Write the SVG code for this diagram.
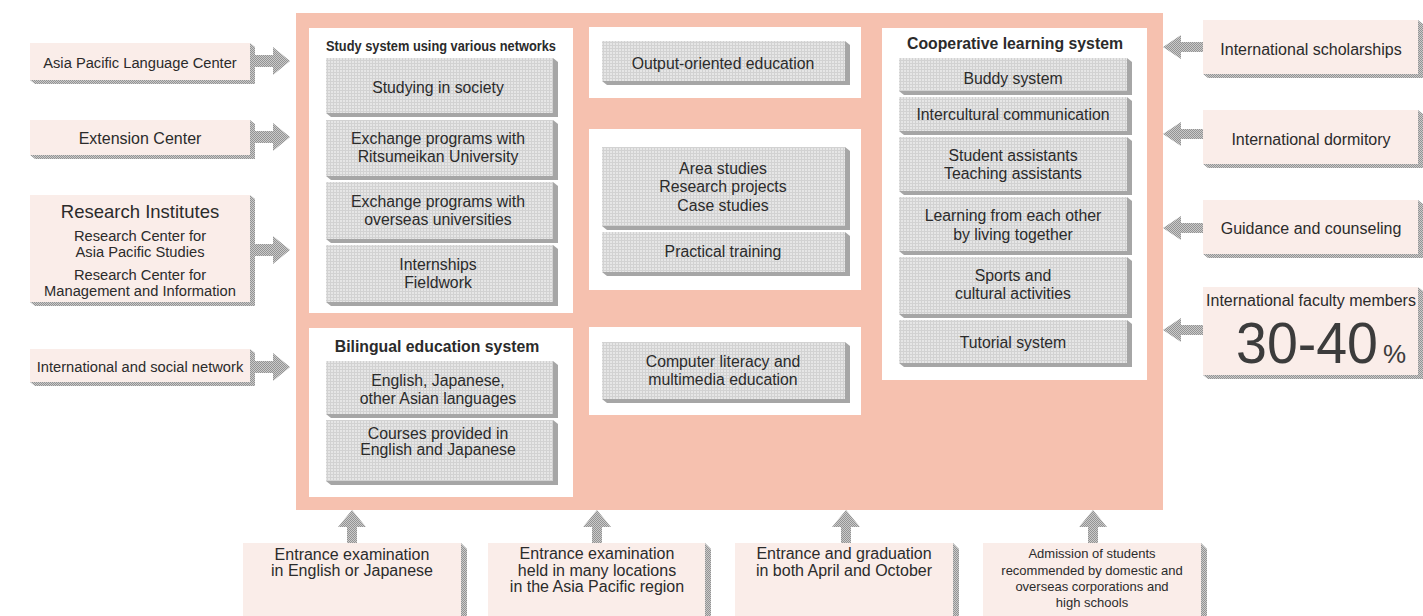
<svg xmlns="http://www.w3.org/2000/svg" width="1423" height="616" viewBox="0 0 1423 616">
<defs>
<pattern id="grid" width="3" height="3" patternUnits="userSpaceOnUse">
<rect width="3" height="3" fill="#e6e6e6"/>
<rect width="3" height="1" fill="#d2d2d2"/>
<rect width="1" height="3" fill="#d2d2d2"/>
</pattern>
<pattern id="stip" width="2" height="2" patternUnits="userSpaceOnUse">
<rect width="2" height="2" fill="#cacaca"/>
<rect width="1" height="1" fill="#939393"/>
<rect x="1" y="1" width="1" height="1" fill="#939393"/>
</pattern>
<style>
.bg{fill:#f6c1af}
.panel{fill:#ffffff}
.face{fill:url(#grid)}
.ext{fill:#a6a6a6}
.pface{fill:#faede9}
.pext{fill:url(#stip)}
.arrow{fill:url(#stip)}
text{font-family:"Liberation Sans",Arial,Helvetica,sans-serif;fill:#2b2b2b;text-anchor:middle}
.t{font-size:15.8px}
.tl{font-size:14.7px}
.tr{font-size:16px}
.tb{font-size:16px}
.ts{font-size:13px}
.h{font-size:15.8px;font-weight:bold}
.hn{font-size:14.5px;font-weight:bold}
</style>
</defs>

<rect class="bg" x="296" y="13" width="867" height="497"/>

<g id="connectors">
<polygon class="arrow" points="255,55 273,55 273,47 290,61 273,75 273,67 255,67"/>
<polygon class="arrow" points="255,131 273,131 273,123 290,137 273,151 273,143 255,143"/>
<polygon class="arrow" points="255,244 273,244 273,236 290,250 273,264 273,256 255,256"/>
<polygon class="arrow" points="255,361 273,361 273,353 290,367 273,381 273,373 255,373"/>
<polygon class="arrow" points="1203,42 1181,42 1181,35 1163,47 1181,59 1181,52 1203,52"/>
<polygon class="arrow" points="1203,129 1181,129 1181,122 1163,134 1181,146 1181,139 1203,139"/>
<polygon class="arrow" points="1203,223 1181,223 1181,216 1163,228 1181,240 1181,233 1203,233"/>
<polygon class="arrow" points="1203,325 1181,325 1181,318 1163,330 1181,342 1181,335 1203,335"/>
<polygon class="arrow" points="347,543 347,527 338,527 352,510 366,527 357,527 357,543"/>
<polygon class="arrow" points="592,543 592,527 583,527 597,510 611,527 602,527 602,543"/>
<polygon class="arrow" points="841,543 841,527 832,527 846,510 860,527 851,527 851,543"/>
<polygon class="arrow" points="1088,543 1088,527 1079,527 1093,510 1107,527 1098,527 1098,543"/>
</g>

<g id="study-system">
<rect class="panel" x="309" y="28" width="264" height="285"/>
<text class="hn" x="441" y="51" textLength="230" lengthAdjust="spacingAndGlyphs">Study system using various networks</text>
<g id="studying-in-society">
<polygon class="ext" points="553,58 558,62 558,117 331,117 326,113"/>
<rect class="face" x="326" y="58" width="227" height="55"/>
<text class="t" x="438" y="93">Studying in society</text>
</g>
<g id="exchange-ritsumeikan">
<polygon class="ext" points="553,120 558,124 558,180 331,180 326,176"/>
<rect class="face" x="326" y="120" width="227" height="56"/>
<text class="t" x="438" y="144">Exchange programs with</text>
<text class="t" x="438" y="162">Ritsumeikan University</text>
</g>
<g id="exchange-overseas">
<polygon class="ext" points="553,182 558,186 558,243 331,243 326,239"/>
<rect class="face" x="326" y="182" width="227" height="57"/>
<text class="t" x="438" y="207">Exchange programs with</text>
<text class="t" x="438" y="225">overseas universities</text>
</g>
<g id="internships">
<polygon class="ext" points="553,245 558,249 558,306 331,306 326,302"/>
<rect class="face" x="326" y="245" width="227" height="57"/>
<text class="t" x="438" y="270">Internships</text>
<text class="t" x="438" y="288">Fieldwork</text>
</g>
</g>

<g id="bilingual">
<rect class="panel" x="309" y="328" width="264" height="169"/>
<text class="h" x="437" y="351.5">Bilingual education system</text>
<g id="languages">
<polygon class="ext" points="553,361 558,365 558,418 331,418 326,414"/>
<rect class="face" x="326" y="361" width="227" height="53"/>
<text class="t" x="438" y="386">English, Japanese,</text>
<text class="t" x="438" y="404">other Asian languages</text>
</g>
<g id="courses">
<polygon class="ext" points="553,420 558,424 558,485 331,485 326,481"/>
<rect class="face" x="326" y="420" width="227" height="61"/>
<text class="t" x="438" y="439">Courses provided in</text>
<text class="t" x="438" y="455">English and Japanese</text>
</g>
</g>

<g id="output-oriented">
<rect class="panel" x="589" y="27" width="272" height="71"/>
<polygon class="ext" points="845,41 850,45 850,85 607,85 602,81"/>
<rect class="face" x="602" y="41" width="243" height="40"/>
<text class="t" x="723" y="69">Output-oriented education</text>
</g>

<g id="area-studies">
<rect class="panel" x="589" y="129" width="272" height="161"/>
<g id="research">
<polygon class="ext" points="845,147 850,151 850,230 607,230 602,226"/>
<rect class="face" x="602" y="147" width="243" height="79"/>
<text class="t" x="723" y="173.5">Area studies</text>
<text class="t" x="723" y="192">Research projects</text>
<text class="t" x="723" y="210.5">Case studies</text>
</g>
<g id="practical">
<polygon class="ext" points="845,232 850,236 850,276 607,276 602,272"/>
<rect class="face" x="602" y="232" width="243" height="40"/>
<text class="t" x="723" y="257">Practical training</text>
</g>
</g>

<g id="computer-literacy">
<rect class="panel" x="589" y="327" width="272" height="88"/>
<polygon class="ext" points="845,342 850,346 850,403 607,403 602,399"/>
<rect class="face" x="602" y="342" width="243" height="57"/>
<text class="t" x="723" y="366.5">Computer literacy and</text>
<text class="t" x="723" y="385">multimedia education</text>
</g>

<g id="cooperative">
<rect class="panel" x="882" y="28" width="265" height="352"/>
<text class="h" x="1015" y="48.5">Cooperative learning system</text>
<g id="buddy">
<polygon class="ext" points="1127,58 1132,62 1132,95 904,95 899,91"/>
<rect class="face" x="899" y="58" width="228" height="33"/>
<text class="t" x="1013" y="83.5">Buddy system</text>
</g>
<g id="intercultural">
<polygon class="ext" points="1127,97 1132,101 1132,135 904,135 899,131"/>
<rect class="face" x="899" y="97" width="228" height="34"/>
<text class="t" x="1013" y="119.5">Intercultural communication</text>
</g>
<g id="assistants">
<polygon class="ext" points="1127,137 1132,141 1132,195 904,195 899,191"/>
<rect class="face" x="899" y="137" width="228" height="54"/>
<text class="t" x="1013" y="160.5">Student assistants</text>
<text class="t" x="1013" y="178.5">Teaching assistants</text>
</g>
<g id="living-together">
<polygon class="ext" points="1127,197 1132,201 1132,255 904,255 899,251"/>
<rect class="face" x="899" y="197" width="228" height="54"/>
<text class="t" x="1013" y="220.5">Learning from each other</text>
<text class="t" x="1013" y="239.5">by living together</text>
</g>
<g id="sports">
<polygon class="ext" points="1127,257 1132,261 1132,318 904,318 899,314"/>
<rect class="face" x="899" y="257" width="228" height="57"/>
<text class="t" x="1013" y="280.5">Sports and</text>
<text class="t" x="1013" y="298.5">cultural activities</text>
</g>
<g id="tutorial">
<polygon class="ext" points="1127,320 1132,324 1132,367 904,367 899,363"/>
<rect class="face" x="899" y="320" width="228" height="43"/>
<text class="t" x="1013" y="347.5">Tutorial system</text>
</g>
</g>

<g id="language-center">
<polygon class="pext" points="250,43 255,47 255,84 35,84 30,80"/>
<rect class="pface" x="30" y="43" width="220" height="37"/>
<text class="tl" x="140" y="67.5">Asia Pacific Language Center</text>
</g>
<g id="extension-center">
<polygon class="pext" points="250,120 255,124 255,159 35,159 30,155"/>
<rect class="pface" x="30" y="120" width="220" height="35"/>
<text class="tb" x="140" y="143.5">Extension Center</text>
</g>
<g id="research-institutes">
<polygon class="pext" points="250,195 255,199 255,306 35,306 30,302"/>
<rect class="pface" x="30" y="195" width="220" height="107"/>
<text x="140" y="217.5" style="font-size:18.5px">Research Institutes</text>
<text class="tl" x="140" y="241">Research Center for</text>
<text class="tl" x="140" y="257">Asia Pacific Studies</text>
<text class="tl" x="140" y="280">Research Center for</text>
<text class="tl" x="140" y="296">Management and Information</text>
</g>
<g id="social-network">
<polygon class="pext" points="250,349 255,353 255,386 35,386 30,382"/>
<rect class="pface" x="30" y="349" width="220" height="33"/>
<text class="tl" x="140" y="371.5">International and social network</text>
</g>

<g id="scholarships">
<polygon class="pext" points="1418,20 1423,24 1423,78 1208,78 1203,74"/>
<rect class="pface" x="1203" y="20" width="215" height="54"/>
<text class="tr" x="1311" y="54.5">International scholarships</text>
</g>
<g id="dormitory">
<polygon class="pext" points="1418,110 1423,114 1423,168 1208,168 1203,164"/>
<rect class="pface" x="1203" y="110" width="215" height="54"/>
<text class="tr" x="1311" y="144.5">International dormitory</text>
</g>
<g id="guidance">
<polygon class="pext" points="1418,200 1423,204 1423,258 1208,258 1203,254"/>
<rect class="pface" x="1203" y="200" width="215" height="54"/>
<text class="tr" x="1311" y="233.5">Guidance and counseling</text>
</g>
<g id="faculty">
<polygon class="pext" points="1418,287 1423,291 1423,379 1208,379 1203,375"/>
<rect class="pface" x="1203" y="287" width="215" height="88"/>
<text class="tr" x="1311" y="306">International faculty members</text>
<text x="1236" y="363" style="font-size:58px;text-anchor:start;fill:#3c3c3c" textLength="142" lengthAdjust="spacingAndGlyphs">30-40</text>
<text x="1383" y="363" style="font-size:26px;text-anchor:start;fill:#3c3c3c">%</text>
</g>

<g id="exam-language">
<polygon class="pext" points="461,543 467,549 467,616 461,616"/>
<rect class="pface" x="243" y="543" width="218" height="80"/>
<text class="tb" x="352" y="560">Entrance examination</text>
<text class="tb" x="352" y="576">in English or Japanese</text>
</g>
<g id="exam-locations">
<polygon class="pext" points="705,543 711,549 711,616 705,616"/>
<rect class="pface" x="488" y="543" width="217" height="80"/>
<text class="tb" x="597" y="559">Entrance examination</text>
<text class="tb" x="597" y="576">held in many locations</text>
<text class="tb" x="597" y="592">in the Asia Pacific region</text>
</g>
<g id="april-october">
<polygon class="pext" points="953,543 959,549 959,616 953,616"/>
<rect class="pface" x="735" y="543" width="218" height="80"/>
<text class="tb" x="844" y="559">Entrance and graduation</text>
<text class="tb" x="844" y="576">in both April and October</text>
</g>
<g id="recommended">
<polygon class="pext" points="1201,543 1207,549 1207,616 1201,616"/>
<rect class="pface" x="983" y="543" width="218" height="80"/>
<text class="ts" x="1092" y="558">Admission of students</text>
<text class="ts" x="1092" y="574.5">recommended by domestic and</text>
<text class="ts" x="1092" y="590.5">overseas corporations and</text>
<text class="ts" x="1092" y="606.5">high schools</text>
</g>
</svg>
